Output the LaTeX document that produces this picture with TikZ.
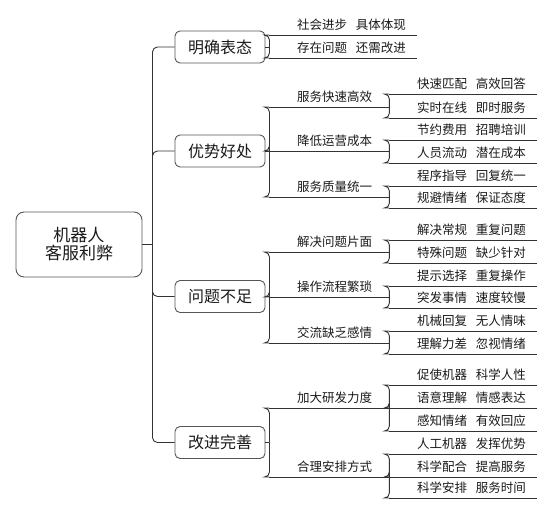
\documentclass[tikz,border=0pt]{standalone}
\usepackage{fontspec}
\setmainfont{Noto Sans CJK SC}
\definecolor{linec}{HTML}{333333}
\definecolor{boxc}{HTML}{555555}
\definecolor{txtc}{HTML}{1A1A1A}
\newcommand\mmlink[3]{\draw[ln] (#1) -- ++(#2,0) coordinate (mmj); \draw[ln,rounded corners=5pt] (mmj) |- (#3);}
\begin{document}
\begin{tikzpicture}[x=1pt,y=-1pt,
  ln/.style={draw=linec, line width=0.9pt},
  rootbox/.style={draw=boxc, line width=0.9pt, rounded corners=8pt, minimum width=126pt, minimum height=65pt, align=center, text=txtc, font=\fontsize{17}{18}\selectfont},
  topic/.style={draw=boxc, line width=0.9pt, rounded corners=5pt, minimum width=90pt, minimum height=32pt, inner sep=0pt, text=txtc, font=\fontsize{16}{17}\selectfont},
  leaf/.style 2 args={minimum width=#1, minimum height=20pt, inner sep=0pt, anchor=south west, text=txtc, font=\fontsize{12.5}{14}\selectfont, execute at begin node={\hspace*{#2}}},
  sub/.style={leaf={119pt}{12pt}},
  lf/.style={leaf={148pt}{16.75pt}}
]
\useasboundingbox (0,0) rectangle (554,515);
% root and topics
\node[rootbox] (r) at (79,244.5) {机器人\\客服利弊};
\node[topic] (t1) at (220,47) {明确表态};
\node[topic] (t2) at (220,151) {优势好处};
\node[topic] (t3) at (220,296.5) {问题不足};
\node[topic] (t4) at (220,442.5) {改进完善};
% group A
\node[lf] (a1) at (269,35) {社会进步\hspace{0.7em}具体体现};
\node[lf] (a2) at (269,58) {存在问题\hspace{0.7em}还需改进};
% group B
\node[sub] (b1) at (269,107) {服务快速高效};
\node[sub] (b2) at (269,151) {降低运营成本};
\node[sub] (b3) at (269,197) {服务质量统一};
\node[lf] (b11) at (389,94) {快速匹配\hspace{0.7em}高效回答};
\node[lf] (b12) at (389,118) {实时在线\hspace{0.7em}即时服务};
\node[lf] (b21) at (389,140) {节约费用\hspace{0.7em}招聘培训};
\node[lf] (b22) at (389,163) {人员流动\hspace{0.7em}潜在成本};
\node[lf] (b31) at (389,186) {程序指导\hspace{0.7em}回复统一};
\node[lf] (b32) at (389,208) {规避情绪\hspace{0.7em}保证态度};
% group C
\node[sub] (c1) at (269,252) {解决问题片面};
\node[sub] (c2) at (269,297) {操作流程繁琐};
\node[sub] (c3) at (269,343) {交流缺乏感情};
\node[lf] (c11) at (389,240) {解决常规\hspace{0.7em}重复问题};
\node[lf] (c12) at (389,263) {特殊问题\hspace{0.7em}缺少针对};
\node[lf] (c21) at (389,286) {提示选择\hspace{0.7em}重复操作};
\node[lf] (c22) at (389,308) {突发事情\hspace{0.7em}速度较慢};
\node[lf] (c31) at (389,331) {机械回复\hspace{0.7em}无人情味};
\node[lf] (c32) at (389,354) {理解力差\hspace{0.7em}忽视情绪};
% group D
\node[sub] (d1) at (269,408) {加大研发力度};
\node[sub] (d2) at (269,477) {合理安排方式};
\node[lf] (d11) at (389,385) {促使机器\hspace{0.7em}科学人性};
\node[lf] (d12) at (389,408) {语意理解\hspace{0.7em}情感表达};
\node[lf] (d13) at (389,431) {感知情绪\hspace{0.7em}有效回应};
\node[lf] (d21) at (389,454) {人工机器\hspace{0.7em}发挥优势};
\node[lf] (d22) at (389,477) {科学配合\hspace{0.7em}提高服务};
\node[lf] (d23) at (389,498) {科学安排\hspace{0.7em}服务时间};
% underlines
\foreach \n in {a1,a2,b1,b2,b3,b11,b12,b21,b22,b31,b32,c1,c2,c3,c11,c12,c21,c22,c31,c32,d1,d2,d11,d12,d13,d21,d22,d23}
  \draw[ln] (\n.south west) -- (\n.south east);
% root to topics
\mmlink{r.east}{10}{t1.west}
\mmlink{r.east}{10}{t2.west}
\mmlink{r.east}{10}{t3.west}
\mmlink{r.east}{10}{t4.west}
% topics to subs/leaves
\mmlink{t1.east}{4}{a1.south west}
\mmlink{t1.east}{4}{a2.south west}
\mmlink{t2.east}{4}{b1.south west}
\mmlink{t2.east}{4}{b2.south west}
\mmlink{t2.east}{4}{b3.south west}
\mmlink{t3.east}{4}{c1.south west}
\mmlink{t3.east}{4}{c2.south west}
\mmlink{t3.east}{4}{c3.south west}
\mmlink{t4.east}{4}{d1.south west}
\mmlink{t4.east}{4}{d2.south west}
% subs to leaves
\mmlink{b1.south east}{1}{b11.south west}
\mmlink{b1.south east}{1}{b12.south west}
\mmlink{b2.south east}{1}{b21.south west}
\mmlink{b2.south east}{1}{b22.south west}
\mmlink{b3.south east}{1}{b31.south west}
\mmlink{b3.south east}{1}{b32.south west}
\mmlink{c1.south east}{1}{c11.south west}
\mmlink{c1.south east}{1}{c12.south west}
\mmlink{c2.south east}{1}{c21.south west}
\mmlink{c2.south east}{1}{c22.south west}
\mmlink{c3.south east}{1}{c31.south west}
\mmlink{c3.south east}{1}{c32.south west}
\mmlink{d1.south east}{1}{d11.south west}
\mmlink{d1.south east}{1}{d12.south west}
\mmlink{d1.south east}{1}{d13.south west}
\mmlink{d2.south east}{1}{d21.south west}
\mmlink{d2.south east}{1}{d22.south west}
\mmlink{d2.south east}{1}{d23.south west}
\end{tikzpicture}
\end{document}
